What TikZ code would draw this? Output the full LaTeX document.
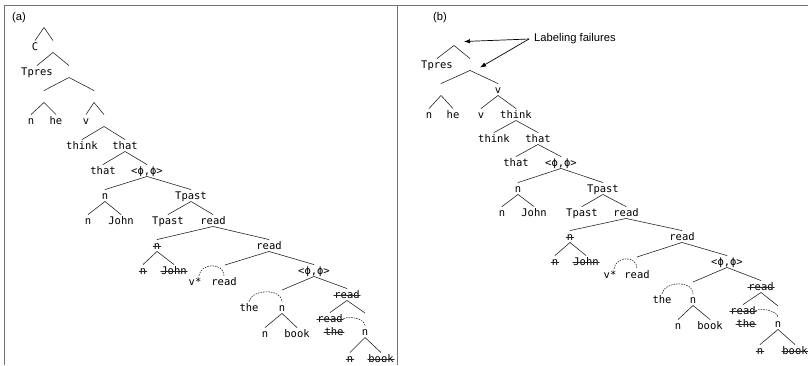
\documentclass[tikz,border=0pt]{standalone}
\usepackage{fontspec}
\setsansfont{Liberation Sans}
\setmonofont{DejaVu Sans Mono}
\usetikzlibrary{arrows.meta}

\begin{document}
\begin{tikzpicture}[x=1pt,y=-1pt,line join=round,line cap=round,
    lbl/.style={font=\ttfamily\fontsize{10.5}{12}\selectfont,inner sep=0pt,
      text height=9.4pt,text depth=2.1pt,anchor=mid},
    br/.style={line width=0.6pt,black!85},
    strk/.style={append after command={([yshift=0.8pt]\tikzlastnode.mid west) edge[br,shorten <=-0.5pt,shorten >=-0.5pt] ([yshift=0.8pt]\tikzlastnode.mid east)}},
    pm/.style={line width=0.6pt,black!85,dash pattern=on 1.2pt off 1.4pt},
    frm/.style={line width=1.3pt,black!55,line cap=butt},
    tag/.style={font=\sffamily\fontsize{11.2}{13}\selectfont,inner sep=0pt},
    fail/.style={line width=0.7pt,-{Latex[length=6pt,width=4.5pt]}}]
    \useasboundingbox (0,0) rectangle (808,365);
    \draw[frm] (4.7,365)--(4.7,5.3)--(808,5.3);
    \draw[frm] (397.7,5.3)--(397.7,365);

    \node[tag] (atag) at (19,18){(a)};
    \node[tag] (btag) at (440,18){(b)};

    % tree (a)
    \node[lbl] (aroot) at (44,23){};
    \node[lbl] (aC) at (35,48){C};
    \node[lbl] (aE1) at (53,48){};
    \node[lbl] (aTpres) at (37,73){Tpres};
    \node[lbl] (aE2) at (69,73){};
    \node[lbl] (aE3) at (44,98){};
    \node[lbl] (aE4) at (94,98){};
    \node[lbl] (an1) at (31,122){n};
    \node[lbl] (ahe) at (56,122){he};
    \node[lbl] (av) at (86,122){v};
    \node[lbl] (aE5) at (104,122){};
    \node[lbl] (athink) at (82,147){think};
    \node[lbl] (athat) at (125,147){that};
    \node[lbl] (athatB) at (103,172){that};
    \node[lbl] (aphi) at (147,172){<ϕ,ϕ>};
    \node[lbl] (an2) at (105,197){n};
    \node[lbl] (aTpast) at (191,197){Tpast};
    \node[lbl] (an3) at (88,222){n};
    \node[lbl] (aJohn) at (121,222){John};
    \node[lbl] (aTpastB) at (168,222){Tpast};
    \node[lbl] (aread) at (213,222){read};
    \node[lbl,strk] (an4) at (157,247){n};
    \node[lbl] (areadB) at (269,247){read};
    \node[lbl,strk] (an5) at (143,272){n};
    \node[lbl,strk] (aJohnB) at (174,272){John};
    \coordinate (aE6) at (225,265);
    \node[lbl] (avstar) at (195,283){v*};
    \node[lbl] (areadC) at (224,283){read};
    \node[lbl] (aphiB) at (314,272){<ϕ,ϕ>};
    \coordinate (aE7) at (282,290);
    \node[lbl] (athe) at (249,309){the};
    \node[lbl] (an6) at (282,309){n};
    \node[lbl] (an9) at (265,335){n};
    \node[lbl] (abook) at (297,335){book};
    \node[lbl,strk] (areadD) at (347,296){read};
    \node[lbl,strk] (areadE) at (330,320){read};
    \coordinate (aE8) at (365,313);
    \node[lbl,strk] (atheB) at (334,333){the};
    \node[lbl] (an7) at (365,333){n};
    \node[lbl,strk] (an8) at (350,360){n};
    \node[lbl,strk] (abookB) at (381,360){book};

    \draw[br] (aC.north)--(aroot.south)--(aE1.north);
    \draw[br] (aTpres.north)--(aE1.south)--(aE2.north);
    \draw[br] (aE3.north)--(aE2.south)--(aE4.north);
    \draw[br] (an1.north)--(aE3.south)--(ahe.north);
    \draw[br] (av.north)--(aE4.south)--(aE5.north);
    \draw[br] (athink.north)--(aE5.south)--(athat.north);
    \draw[br] (athatB.north)--(athat.south)--(aphi.north);
    \draw[br] (an2.north)--(aphi.south)--(aTpast.north);
    \draw[br] (an3.north)--(an2.south)--(aJohn.north);
    \draw[br] (aTpastB.north)--(aTpast.south)--(aread.north);
    \draw[br] (an4.north)--(aread.south)--(areadB.north);
    \draw[br] (an5.north)--(an4.south)--(aJohnB.north);
    \draw[br] (aE6)--(areadB.south)--(aphiB.north);
    \draw[pm] ([xshift=4pt]avstar.north) .. controls +(2,-13) and +(0,-13) .. (areadC.north);
    \draw[br] (aE7)--(aphiB.south)--(areadD.north);
    \draw[pm] (athe.north) .. controls +(3,-13) and +(0,-13) .. (an6.north);
    \draw[br] (an9.north)--(an6.south)--(abook.north);
    \draw[br] (areadE.north)--(areadD.south)--(aE8);
    \draw[pm] ([yshift=7pt]atheB.north east) .. controls +(8,-3) and +(0,-6) .. (an7.north);
    \draw[br] (an8.north)--(an7.south)--(abookB.north);

    % tree (b)
    \node[lbl] (broot) at (454,41){};
    \node[lbl] (bTpres) at (437,66){Tpres};
    \node[lbl] (bE1) at (470,66){};
    \node[lbl] (bE2) at (441,91){};
    \node[lbl] (bv) at (498,91){v};
    \node[lbl] (bn) at (429,116){n};
    \node[lbl] (bhe) at (453,116){he};
    \node[lbl] (bvB) at (481,116){v};
    \node[lbl] (bthink) at (516,116){think};
    \node[lbl] (bthinkB) at (494,140){think};
    \node[lbl] (bthat) at (538,140){that};
    \node[lbl] (bthatB) at (516,164){that};
    \node[lbl] (bphi) at (561,164){<ϕ,ϕ>};
    \node[lbl] (bn2) at (518,190){n};
    \node[lbl] (bTpast) at (603,190){Tpast};
    \node[lbl] (bn3) at (502,214){n};
    \node[lbl] (bJohn) at (534,214){John};
    \node[lbl] (bTpastB) at (582,214){Tpast};
    \node[lbl] (bread) at (626,214){read};
    \node[lbl,strk] (bn4) at (570,238){n};
    \node[lbl] (breadB) at (682,238){read};
    \node[lbl,strk] (bn5) at (555,263){n};
    \node[lbl,strk] (bJohnB) at (586,263){John};
    \coordinate (bE3) at (637,257);
    \node[lbl] (bvstar) at (610,276){v*};
    \node[lbl] (breadC) at (637,276){read};
    \node[lbl] (bphiB) at (727,263){<ϕ,ϕ>};
    \coordinate (bE4) at (693,282);
    \node[lbl] (bthe) at (662,301){the};
    \node[lbl] (bn6) at (693,301){n};
    \node[lbl] (bn7) at (678,327){n};
    \node[lbl] (bbook) at (710,327){book};
    \node[lbl,strk] (breadD) at (761,288){read};
    \node[lbl,strk] (breadE) at (743,312){read};
    \coordinate (bE5) at (778,306);
    \node[lbl,strk] (btheB) at (746,325){the};
    \node[lbl] (bn8) at (778,325){n};
    \node[lbl,strk] (bn9) at (760,352){n};
    \node[lbl,strk] (bbookB) at (795,352){book};

    \draw[br] (bTpres.north)--(broot.south)--(bE1.north);
    \draw[br] (bE2.north)--(bE1.south)--(bv.north);
    \draw[br] (bn.north)--(bE2.south)--(bhe.north);
    \draw[br] (bvB.north)--(bv.south)--(bthink.north);
    \draw[br] (bthinkB.north)--(bthink.south)--(bthat.north);
    \draw[br] (bthatB.north)--(bthat.south)--(bphi.north);
    \draw[br] (bn2.north)--(bphi.south)--(bTpast.north);
    \draw[br] (bn3.north)--(bn2.south)--(bJohn.north);
    \draw[br] (bTpastB.north)--(bTpast.south)--(bread.north);
    \draw[br] (bn4.north)--(bread.south)--(breadB.north);
    \draw[br] (bn5.north)--(bn4.south)--(bJohnB.north);
    \draw[br] (bE3)--(breadB.south)--(bphiB.north);
    \draw[pm] ([xshift=4pt]bvstar.north) .. controls +(2,-13) and +(0,-13) .. (breadC.north);
    \draw[br] (bE4)--(bphiB.south)--(breadD.north);
    \draw[pm] (bthe.north) .. controls +(3,-13) and +(0,-13) .. (bn6.north);
    \draw[br] (bn7.north)--(bn6.south)--(bbook.north);
    \draw[br] (breadE.north)--(breadD.south)--(bE5);
    \draw[pm] ([yshift=7pt]btheB.north east) .. controls +(8,-3) and +(0,-6) .. (bn8.north);
    \draw[br] (bn9.north)--(bn8.south)--(bbookB.north);

    \node[tag,anchor=west,inner xsep=5pt] (lab) at (529,39){Labeling failures};
    \draw[fail] (lab.west)--([xshift=10pt,yshift=-2pt]broot.center);
    \draw[fail] (lab.west)--([xshift=10pt,yshift=-3pt]bE1.center);
  \end{tikzpicture}
\end{document}
